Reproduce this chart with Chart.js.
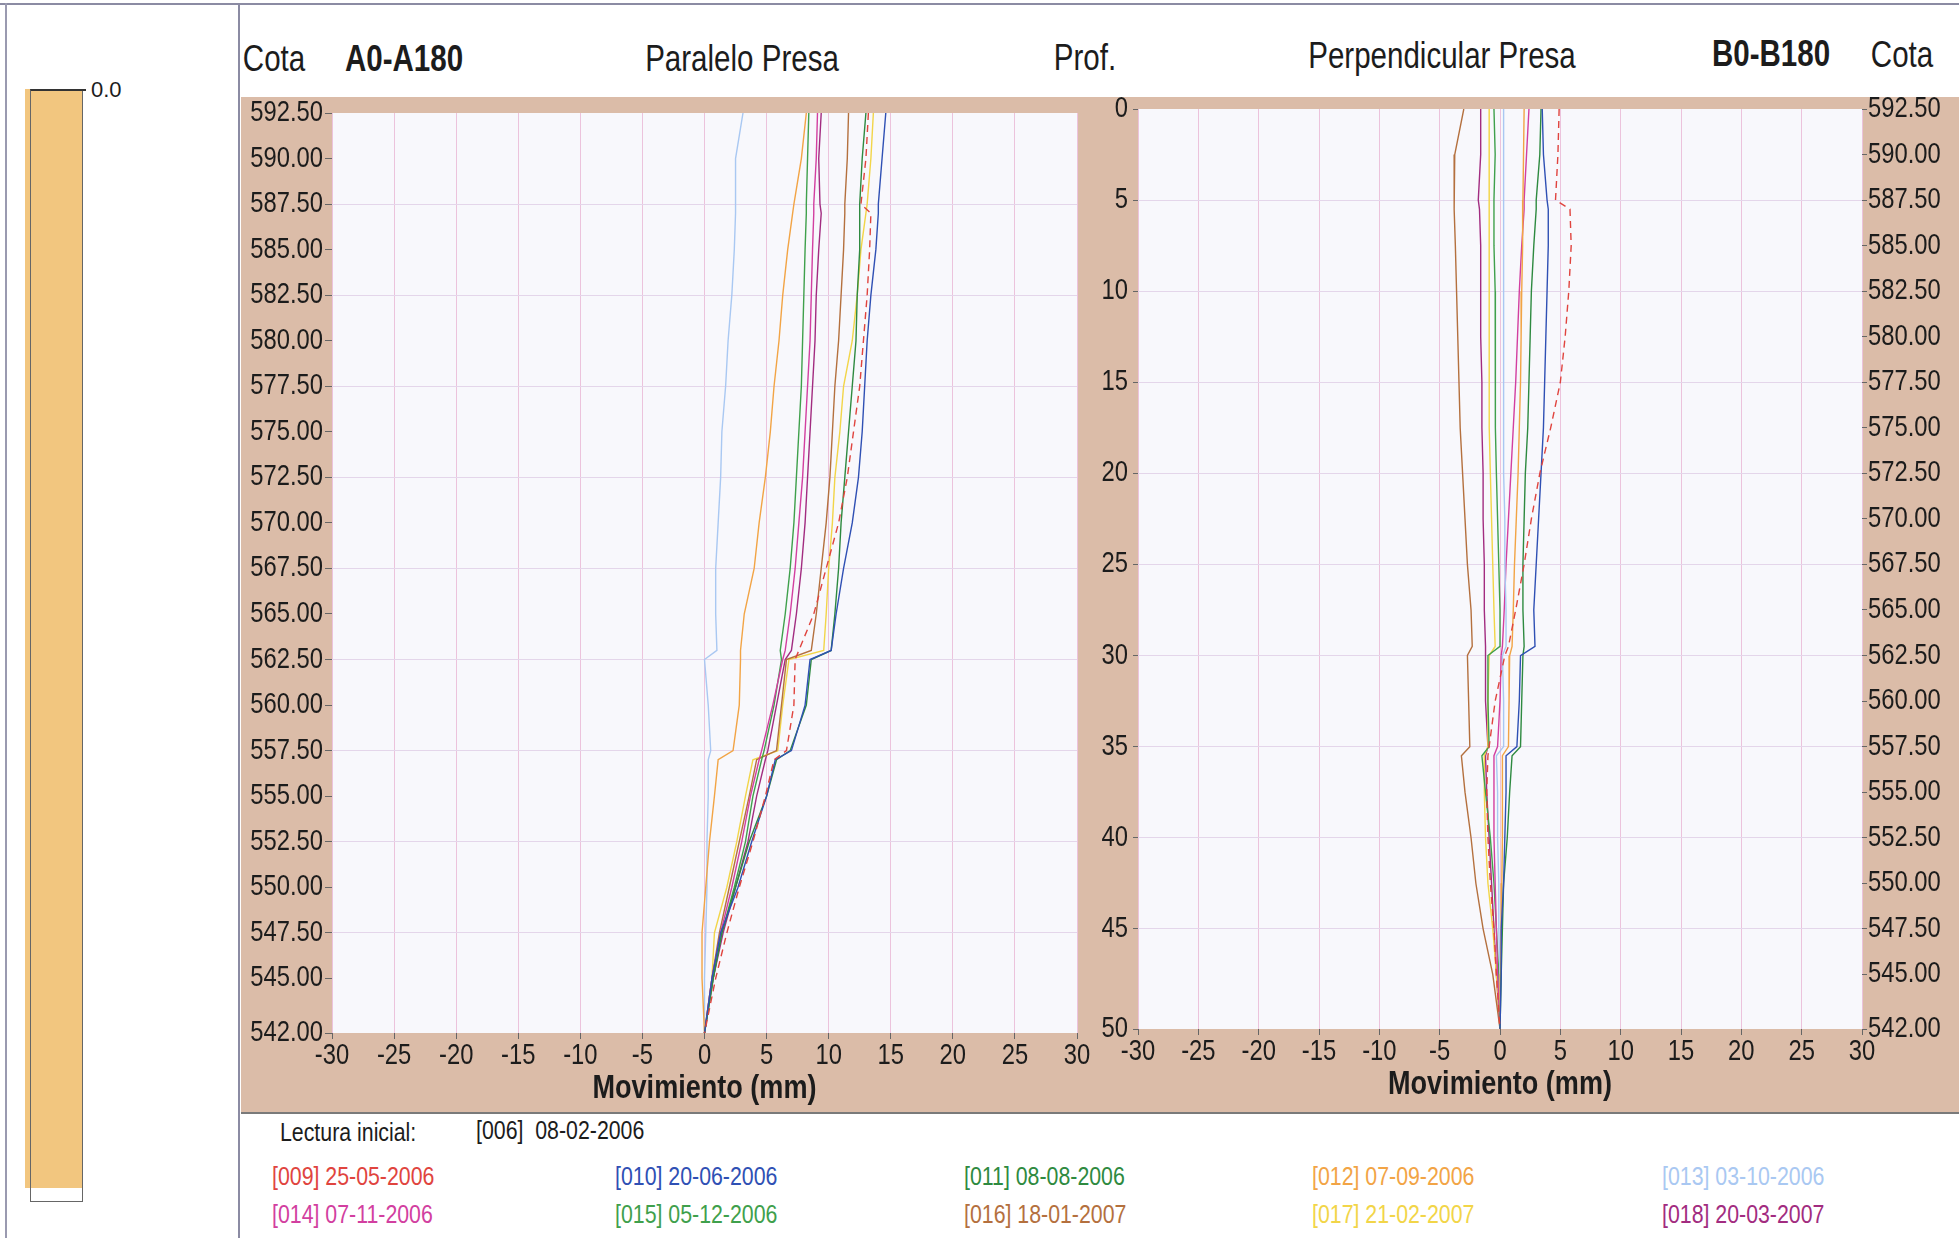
<!DOCTYPE html>
<html>
<head>
<meta charset="utf-8">
<script src="https://cdn.jsdelivr.net/npm/chart.js@4.4.1/dist/chart.umd.min.js"></script>
<style>
  body { margin: 0; width: 1959px; height: 1238px; background: #fff; position: relative; overflow: hidden;
         font-family: 'Liberation Sans', Arial, sans-serif; color: #1c1c1c; }
  .abs { position: absolute; white-space: nowrap; }
  /* narrow look: Arial-like text squeezed horizontally */
  .c { transform: translate(-50%, -50%) scaleX(0.82); }
  .l { transform-origin: 0 50%; transform: translate(0, -50%) scaleX(0.82); }
  .hdr { font-size: 36px; }
  .b { font-weight: bold; }
  canvas { position: absolute; }
</style>
</head>
<body>
<div class="abs" style="left:0;top:3px;width:1959px;border-top:2px solid #8b8ba3"></div>
<div class="abs" style="left:5px;top:3px;height:1235px;border-left:2px solid #9a9ab0"></div>
<div class="abs" style="left:238px;top:3px;height:1235px;border-left:2px solid #8b8ba3"></div>
<div class="abs" style="left:241px;top:97px;width:1718px;height:1015px;background:#dbbca8;border-bottom:2px solid #7a7a7a"></div>

<!-- escala lateral -->
<div class="abs" style="left:25px;top:89px;width:57px;height:1099px;background:#f2c67f"></div>
<div class="abs" style="left:30px;top:89px;width:51px;height:1110px;border:1px solid #666;border-top:2px solid #333"></div>
<div class="abs" style="left:81px;top:89px;width:5px;border-top:2px solid #333"></div>
<div class="abs" style="left:91px;top:90px;transform:translate(0,-50%);font-size:22px">0.0</div>

<!-- cabecera -->
<div class="abs c hdr" style="left:274px;top:59px">Cota</div>
<div class="abs c hdr b" style="left:404px;top:59px">A0-A180</div>
<div class="abs c hdr" style="left:742px;top:59px">Paralelo Presa</div>
<div class="abs c hdr" style="left:1085px;top:58px">Prof.</div>
<div class="abs c hdr" style="left:1442px;top:56px">Perpendicular Presa</div>
<div class="abs c hdr b" style="left:1771px;top:54px">B0-B180</div>
<div class="abs c hdr" style="left:1902px;top:55px">Cota</div>

<canvas id="chartA" width="869" height="1032" style="left:241px;top:80px"></canvas>
<canvas id="chartB" width="879" height="1032" style="left:1080px;top:80px"></canvas>

<div class="abs l" style="left:280px;top:1132px;font-size:26px">Lectura inicial:</div>
<div class="abs l" style="left:476px;top:1130px;font-size:26px">[006]&nbsp; 08-02-2006</div>
<div id="legend"></div>

<script>
// profundidad de cada lectura (m)
const depths = [0, 2.5, 5, 5.5, 7.5, 10, 12.5, 15, 17.5, 20, 22.5, 25, 27.5, 29.5, 30, 32.5, 35, 35.5, 37.5, 40, 42.5, 45, 47.5, 50.5];
const topCota = 592.5;

const codes = ['009', '010', '011', '012', '013', '014', '015', '016', '017', '018'];
const dates = ['25-05-2006', '20-06-2006', '08-08-2006', '07-09-2006', '03-10-2006',
               '07-11-2006', '05-12-2006', '18-01-2007', '21-02-2007', '20-03-2007'];
const colors = ['#e0443e', '#2f50b4', '#2e8a40', '#f2a445', '#a9c8f2',
                '#d23fa0', '#3fa04c', '#b4703e', '#f2d548', '#a22c80'];

const xTicks = [-30, -25, -20, -15, -10, -5, 0, 5, 10, 15, 20, 25, 30];
const cotaTicks = [592.5, 590, 587.5, 585, 582.5, 580, 577.5, 575, 572.5, 570, 567.5, 565, 562.5, 560,
                   557.5, 555, 552.5, 550, 547.5, 545, 542];
const profTicks = [0, 5, 10, 15, 20, 25, 30, 35, 40, 45, 50.5];

// A0-A180, paralelo presa (mm)
const a009 = [13.2, 13.0, 12.6, 13.4, 13.3, 13.1, 12.8, 12.5, 12.0, 11.5, 10.8, 9.8, 8.8, 7.6, 7.3, 7.2, 6.6, 5.6, 4.9, 3.9, 2.8, 1.8, 0.9, 0];
const a010 = [14.6, 14.3, 14.0, 14.0, 13.8, 13.4, 13.1, 12.9, 12.7, 12.4, 11.9, 11.2, 10.6, 10.2, 8.5, 8.1, 7.0, 5.7, 5.0, 3.8, 2.7, 1.3, 0.6, 0];
const a011 = [13.0, 12.7, 12.5, 12.5, 12.5, 12.3, 12.2, 11.9, 11.6, 11.3, 11.0, 10.8, 10.5, 10.2, 8.6, 8.2, 6.9, 5.8, 5.0, 3.6, 2.5, 1.4, 0.7, 0];
const a012 = [8.2, 7.8, 7.2, 7.1, 6.7, 6.3, 6.0, 5.6, 5.3, 4.9, 4.4, 4.0, 3.2, 2.9, 2.9, 2.8, 2.3, 1.1, 0.8, 0.4, 0.1, -0.2, -0.2, 0];
const a013 = [3.1, 2.5, 2.5, 2.5, 2.4, 2.2, 1.9, 1.7, 1.4, 1.3, 1.1, 0.9, 0.9, 1.0, 0.0, 0.3, 0.5, 0.3, 0.3, 0.2, 0.2, 0.1, 0.0, 0];
const a014 = [9.1, 9.0, 8.8, 8.8, 8.7, 8.6, 8.5, 8.3, 8.1, 7.9, 7.6, 7.3, 6.9, 6.5, 6.3, 5.5, 4.6, 4.4, 3.7, 3.0, 2.2, 1.3, 0.6, 0];
const a015 = [8.4, 8.3, 8.2, 8.2, 8.1, 8.0, 7.9, 7.8, 7.6, 7.4, 7.2, 6.9, 6.5, 6.1, 6.2, 5.6, 4.8, 4.6, 3.9, 3.3, 2.4, 1.4, 0.7, 0];
const a016 = [11.6, 11.5, 11.3, 11.3, 11.2, 11.0, 10.8, 10.5, 10.3, 10.1, 9.8, 9.4, 9.0, 8.6, 6.6, 6.2, 5.8, 4.2, 3.6, 2.8, 2.0, 1.2, 0.6, 0];
const a017 = [13.6, 13.4, 13.1, 13.0, 12.6, 12.3, 11.9, 11.2, 10.9, 10.5, 10.3, 10.0, 9.8, 9.6, 6.8, 6.3, 5.9, 3.9, 3.3, 2.6, 1.8, 0.8, 0.6, 0];
const a018 = [9.4, 9.2, 9.3, 9.4, 9.2, 9.0, 8.9, 8.7, 8.5, 8.3, 8.1, 7.8, 7.4, 7.0, 6.5, 5.8, 5.1, 4.9, 4.2, 3.5, 2.5, 1.5, 0.7, 0];

// B0-B180, perpendicular presa (mm)
const b009 = [4.9, 4.8, 4.6, 5.8, 5.9, 5.7, 5.4, 5.0, 4.2, 3.3, 2.6, 2.0, 1.3, 0.7, 0.4, -0.4, -0.9, -1.0, -1.1, -1.0, -0.8, -0.5, -0.3, 0];
const b010 = [3.5, 3.6, 3.9, 4.0, 4.0, 3.9, 3.8, 3.7, 3.6, 3.4, 3.2, 3.0, 2.8, 2.9, 1.7, 1.6, 1.4, 0.5, 0.5, 0.4, 0.3, 0.1, 0.1, 0];
const b011 = [3.4, 3.3, 3.0, 3.0, 2.8, 2.6, 2.5, 2.4, 2.3, 2.1, 2.0, 1.9, 1.9, 2.0, 1.9, 1.8, 1.7, 1.0, 0.8, 0.6, 0.3, 0.2, 0.1, 0];
const b012 = [2.0, 1.95, 1.9, 1.9, 1.85, 1.8, 1.75, 1.7, 1.6, 1.5, 1.35, 1.2, 1.1, 1.0, 0.8, 0.75, 0.7, 0.2, 0.2, 0.2, 0.15, 0.1, 0.05, 0];
const b013 = [0.3, 0.3, 0.3, 0.3, 0.3, 0.3, 0.3, 0.3, 0.3, 0.3, 0.4, 0.4, 0.5, 0.5, 0.2, 0.3, 0.3, -0.3, -0.2, -0.2, -0.1, -0.1, 0, 0];
const b014 = [2.4, 2.2, 2.0, 2.0, 1.8, 1.6, 1.45, 1.3, 1.1, 0.9, 0.7, 0.5, 0.35, 0.2, 0.1, 0.0, -0.2, -0.5, -0.5, -0.5, -0.4, -0.3, -0.2, 0];
const b015 = [-0.5, -0.4, -0.5, -0.5, -0.5, -0.4, -0.4, -0.4, -0.35, -0.3, -0.2, -0.1, 0.0, 0.0, -1.0, -1.0, -0.9, -1.5, -1.2, -0.8, -0.5, -0.3, -0.1, 0];
const b016 = [-3.0, -3.75, -3.8, -3.8, -3.7, -3.6, -3.5, -3.4, -3.3, -3.1, -2.9, -2.7, -2.4, -2.3, -2.7, -2.6, -2.5, -3.2, -2.9, -2.4, -2.0, -1.4, -0.6, 0];
const b017 = [-0.9, -0.9, -0.9, -0.9, -0.9, -0.9, -0.9, -0.9, -0.85, -0.8, -0.7, -0.6, -0.5, -0.4, -0.9, -1.0, -1.0, -1.3, -1.3, -1.2, -1.0, -0.6, -0.3, 0];
const b018 = [-1.6, -1.6, -1.8, -1.7, -1.6, -1.6, -1.6, -1.5, -1.5, -1.4, -1.4, -1.3, -1.3, -1.2, -1.2, -1.2, -1.0, -1.2, -1.1, -0.9, -0.7, -0.5, -0.3, 0];

const tableA = [a009, a010, a011, a012, a013, a014, a015, a016, a017, a018];
const tableB = [b009, b010, b011, b012, b013, b014, b015, b016, b017, b018];

const FONT = "'Liberation Sans', Arial, sans-serif";
const SQUEEZE = 0.82;
const INK = '#1c1c1c';
Chart.defaults.font.family = FONT;

// legend below the charts
const legendEl = document.getElementById('legend');
const legendX = [272, 615, 964, 1312, 1662];
codes.forEach((c, i) => {
    const d = document.createElement('div');
    d.className = 'abs l';
    d.style.left = legendX[i % 5] + 'px';
    d.style.top = (i < 5 ? 1176 : 1214) + 'px';
    d.style.fontSize = '26px';
    d.style.color = colors[i];
    d.textContent = '[' + c + '] ' + dates[i];
    legendEl.appendChild(d);
});

const plotBg = {
    id: 'plotBg',
    beforeDraw(chart) {
        const a = chart.chartArea;
        const ctx = chart.ctx;
        ctx.save();
        ctx.fillStyle = '#f8f8fc';
        ctx.fillRect(a.left, a.top, a.right - a.left, a.bottom - a.top);
        ctx.restore();
    }
};

// condensed tick labels and axis titles, placed through the chart scales
function squeezed(ctx, text, x, y, align, font) {
    ctx.save();
    ctx.font = font;
    ctx.fillStyle = INK;
    ctx.textAlign = align;
    ctx.textBaseline = 'middle';
    ctx.translate(x, y);
    ctx.scale(SQUEEZE, 1);
    ctx.fillText(text, 0, 0);
    ctx.restore();
}

const narrowLabels = {
    id: 'narrowLabels',
    afterDraw(chart, args, opts) {
        const ctx = chart.ctx;
        const a = chart.chartArea;
        const tickFont = '29px ' + FONT;
        const xs = chart.scales.x;
        xTicks.forEach(v => squeezed(ctx, String(v), xs.getPixelForValue(v), a.bottom + 23, 'center', tickFont));
        squeezed(ctx, 'Movimiento (mm)', xs.getPixelForValue(0), a.bottom + 56, 'center', 'bold 33px ' + FONT);
        opts.axes.forEach(ax => {
            const s = chart.scales[ax.id];
            ax.values.forEach(v => {
                const x = ax.side === 'left' ? a.left - ax.gap : a.right + ax.gap;
                squeezed(ctx, ax.fmt(v), x, s.getPixelForValue(v), ax.side === 'left' ? 'right' : 'left', tickFont);
            });
        });
    }
};

function makeDatasets(table, toY) {
    return codes.map((c, i) => ({
        label: c,
        data: depths.map((d, k) => ({ x: table[i][k], y: toY(d) })),
        borderColor: colors[i],
        borderWidth: 1.4,
        borderDash: c === '009' ? [7, 5] : [],
        pointRadius: 0,
        showLine: true,
        fill: false
    }));
}

function isFive(depth) {
    const r = depth / 5;
    return Math.abs(r - Math.round(r)) < 1e-6 && depth > 0 && depth < 50;
}

function xScale(height) {
    return {
        type: 'linear', min: -30, max: 30,
        afterBuildTicks: s => { s.ticks = xTicks.map(v => ({ value: v })); },
        grid: { color: '#ecc3dc', lineWidth: 1, tickLength: 6, tickColor: '#666' },
        border: { display: false },
        ticks: { display: false },
        afterFit: s => { s.height = height; }
    };
}

const cotaLabel = v => v.toFixed(2);

new Chart(document.getElementById('chartA'), {
    type: 'scatter',
    data: { datasets: makeDatasets(tableA, d => topCota - d) },
    plugins: [plotBg, narrowLabels],
    options: {
        responsive: false, animation: false,
        layout: { padding: { top: 33, right: 33, left: 0, bottom: 0 } },
        plugins: {
            legend: { display: false }, tooltip: { enabled: false },
            narrowLabels: { axes: [{ id: 'y', side: 'left', gap: 9, values: cotaTicks, fmt: cotaLabel }] }
        },
        scales: {
            x: xScale(79),
            y: {
                type: 'linear', min: 542, max: topCota,
                afterBuildTicks: s => { s.ticks = cotaTicks.map(v => ({ value: v })); },
                grid: { color: c => (c.tick && isFive(topCota - c.tick.value)) ? '#e4d6ea' : 'rgba(0,0,0,0)',
                        tickLength: 7, tickColor: '#666' },
                border: { display: false },
                ticks: { display: false },
                afterFit: s => { s.width = 91; }
            }
        }
    }
});

new Chart(document.getElementById('chartB'), {
    type: 'scatter',
    data: { datasets: makeDatasets(tableB, d => d).map(ds => Object.assign(ds, { yAxisID: 'prof' })) },
    plugins: [plotBg, narrowLabels],
    options: {
        responsive: false, animation: false,
        layout: { padding: { top: 29, right: 0, left: 0, bottom: 0 } },
        plugins: {
            legend: { display: false }, tooltip: { enabled: false },
            narrowLabels: { axes: [
                { id: 'prof', side: 'left', gap: 10, values: profTicks, fmt: v => String(Math.floor(v)) },
                { id: 'cota', side: 'right', gap: 6, values: cotaTicks, fmt: cotaLabel }
            ] }
        },
        scales: {
            x: xScale(83),
            prof: {
                type: 'linear', position: 'left', reverse: true, min: 0, max: 50.5,
                afterBuildTicks: s => { s.ticks = profTicks.map(v => ({ value: v })); },
                grid: { color: c => (c.tick && isFive(c.tick.value)) ? '#e4d6ea' : 'rgba(0,0,0,0)',
                        tickLength: 5, tickColor: '#666' },
                border: { display: false },
                ticks: { display: false },
                afterFit: s => { s.width = 58; }
            },
            cota: {
                type: 'linear', position: 'right', min: 542, max: topCota,
                afterBuildTicks: s => { s.ticks = cotaTicks.map(v => ({ value: v })); },
                grid: { drawOnChartArea: false, tickLength: 5, color: '#666' },
                border: { display: false },
                ticks: { display: false },
                afterFit: s => { s.width = 97; }
            }
        }
    }
});
</script>
</body>
</html>
